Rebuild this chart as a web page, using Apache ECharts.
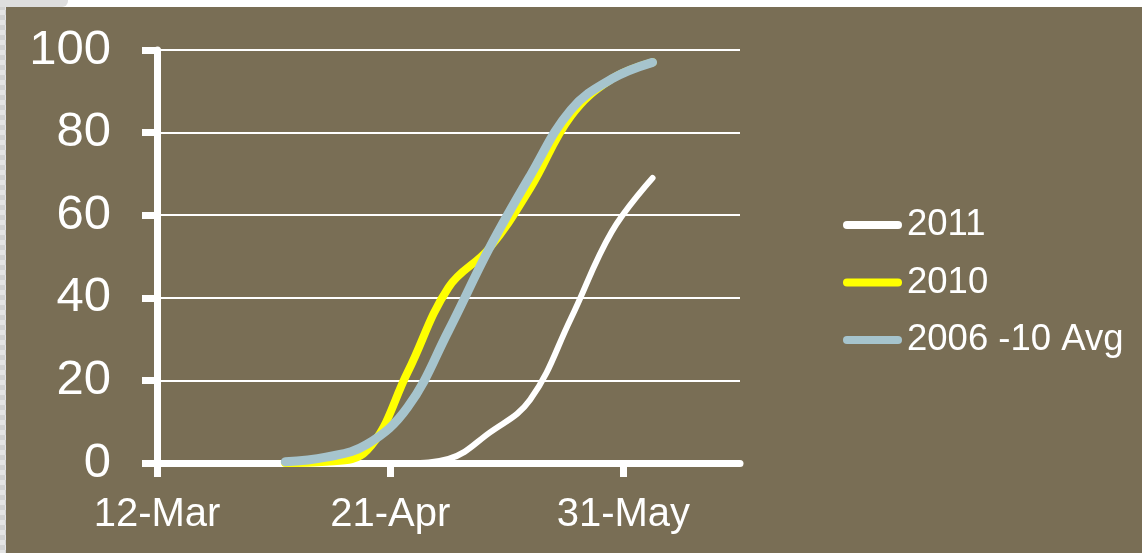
<!DOCTYPE html>
<html>
<head>
<meta charset="utf-8">
<script src="https://cdn.jsdelivr.net/npm/echarts@6/dist/echarts.min.js"></script>
<style>
  html, body { margin: 0; padding: 0; background: #ffffff; width: 1142px; height: 553px; overflow: hidden; }
  #strip { position: absolute; left: 0; top: 0; width: 6px; height: 553px;
    background-color: #e4e4e4;
    background-image: linear-gradient(45deg, #d2d2d2 25%, transparent 25%, transparent 75%, #d2d2d2 75%),
                      linear-gradient(45deg, #d2d2d2 25%, transparent 25%, transparent 75%, #d2d2d2 75%);
    background-size: 10px 10px; background-position: 0 0, 5px 5px; }
  #corner { position: absolute; left: 0; top: 0; width: 68px; height: 7px; background: #dedede; border-bottom-right-radius: 6px; }
  #chart { position: absolute; left: 6px; top: 7px; width: 1136px; height: 546px; background: #796e55; }
</style>
</head>
<body>
<div id="strip"></div>
<div id="corner"></div>
<div id="chart"></div>
<script>
// Axis start date (12-Mar) and tick labels
const axisStart = '2011-03-12';
const axisEnd = '2011-06-20';
const tickDates = ['2011-03-12', '2011-04-21', '2011-05-31'];
const tickLabels = ['12-Mar', '21-Apr', '31-May'];
const yTicks = [0, 20, 40, 60, 80, 100];

// Weekly observation dates
const obsDates = ['2011-04-03', '2011-04-10', '2011-04-17', '2011-04-24', '2011-05-01',
                  '2011-05-08', '2011-05-15', '2011-05-22', '2011-05-29', '2011-06-05'];

// Series values (percent)
const seriesNames = ['2011', '2010', '2006 -10 Avg'];
const values2011 = [0, 0, 0, 0, 1, 7.3, 15.3, 35, 56, 69];
const values2010 = [0, 0.3, 3, 22, 42.5, 52, 66.5, 84, 93, 97];
const valuesAvg  = [0.3, 1.4, 4.5, 13.5, 32, 52, 69.5, 85.5, 93, 97];

function dayOffset(d) {
  return Math.round((Date.parse(d + 'T00:00:00Z') - Date.parse(axisStart + 'T00:00:00Z')) / 86400000);
}
const obsDays = obsDates.map(dayOffset);
const tickDays = tickDates.map(dayOffset);
const maxDay = dayOffset(axisEnd);
const pairs = vals => obsDays.map((d, i) => [d, vals[i]]);

const FONT = "'Liberation Sans', Arial, sans-serif";
const chart = echarts.init(document.getElementById('chart'), null, { renderer: 'canvas' });

function lineSeries(name, vals, color, width) {
  return {
    name: name, type: 'line', data: pairs(vals),
    smooth: 0.4, symbol: 'none', showSymbol: false,
    lineStyle: { color: color, width: width, cap: 'round', join: 'round' },
    itemStyle: { color: color },
    emphasis: { disabled: true },
    animation: false
  };
}

const legendIcon = 'path://M4,0 L55,0 A4,4 0 0 1 55,8 L4,8 A4,4 0 0 1 4,0 Z';

chart.setOption({
  backgroundColor: '#796e55',
  animation: false,
  grid: { left: 151, right: 402, top: 43, bottom: 90, containLabel: false },
  legend: {
    orient: 'vertical', left: 832, top: 193,
    itemWidth: 59, itemHeight: 8, itemGap: 17.5,
    icon: legendIcon,
    textStyle: { color: '#ffffff', fontSize: 36.5, fontFamily: FONT, lineHeight: 40 },
    data: seriesNames.map((n, i) => ({ name: n, itemStyle: { color: ['#ffffff', '#ffff00', '#a6c4cd'][i] } })),
    selectedMode: false
  },
  xAxis: {
    type: 'value', min: 0, max: maxDay, interval: 40,
    axisLine: { show: true, lineStyle: { color: '#ffffff', width: 7 } },
    axisTick: { show: true, length: 14, lineStyle: { color: '#ffffff', width: 7 }, customValues: tickDays },
    axisLabel: {
      color: '#ffffff', fontSize: 40, fontFamily: FONT, margin: 32,
      customValues: tickDays,
      formatter: v => { const i = tickDays.indexOf(v); return i >= 0 ? tickLabels[i] : ''; }
    },
    splitLine: { show: false }
  },
  yAxis: {
    type: 'value', min: yTicks[0], max: yTicks[yTicks.length - 1], interval: 20,
    axisLine: { show: true, lineStyle: { color: '#ffffff', width: 7 } },
    axisTick: { show: true, length: 15, lineStyle: { color: '#ffffff', width: 7 } },
    axisLabel: { color: '#ffffff', fontSize: 49, fontFamily: FONT, margin: 46 },
    splitLine: { show: true, lineStyle: { color: '#ffffff', width: 2 } }
  },
  series: [
    lineSeries(seriesNames[0], values2011, '#ffffff', 6),
    lineSeries(seriesNames[1], values2010, '#ffff00', 8),
    lineSeries(seriesNames[2], valuesAvg, '#a6c4cd', 9)
  ]
});
</script>
</body>
</html>
